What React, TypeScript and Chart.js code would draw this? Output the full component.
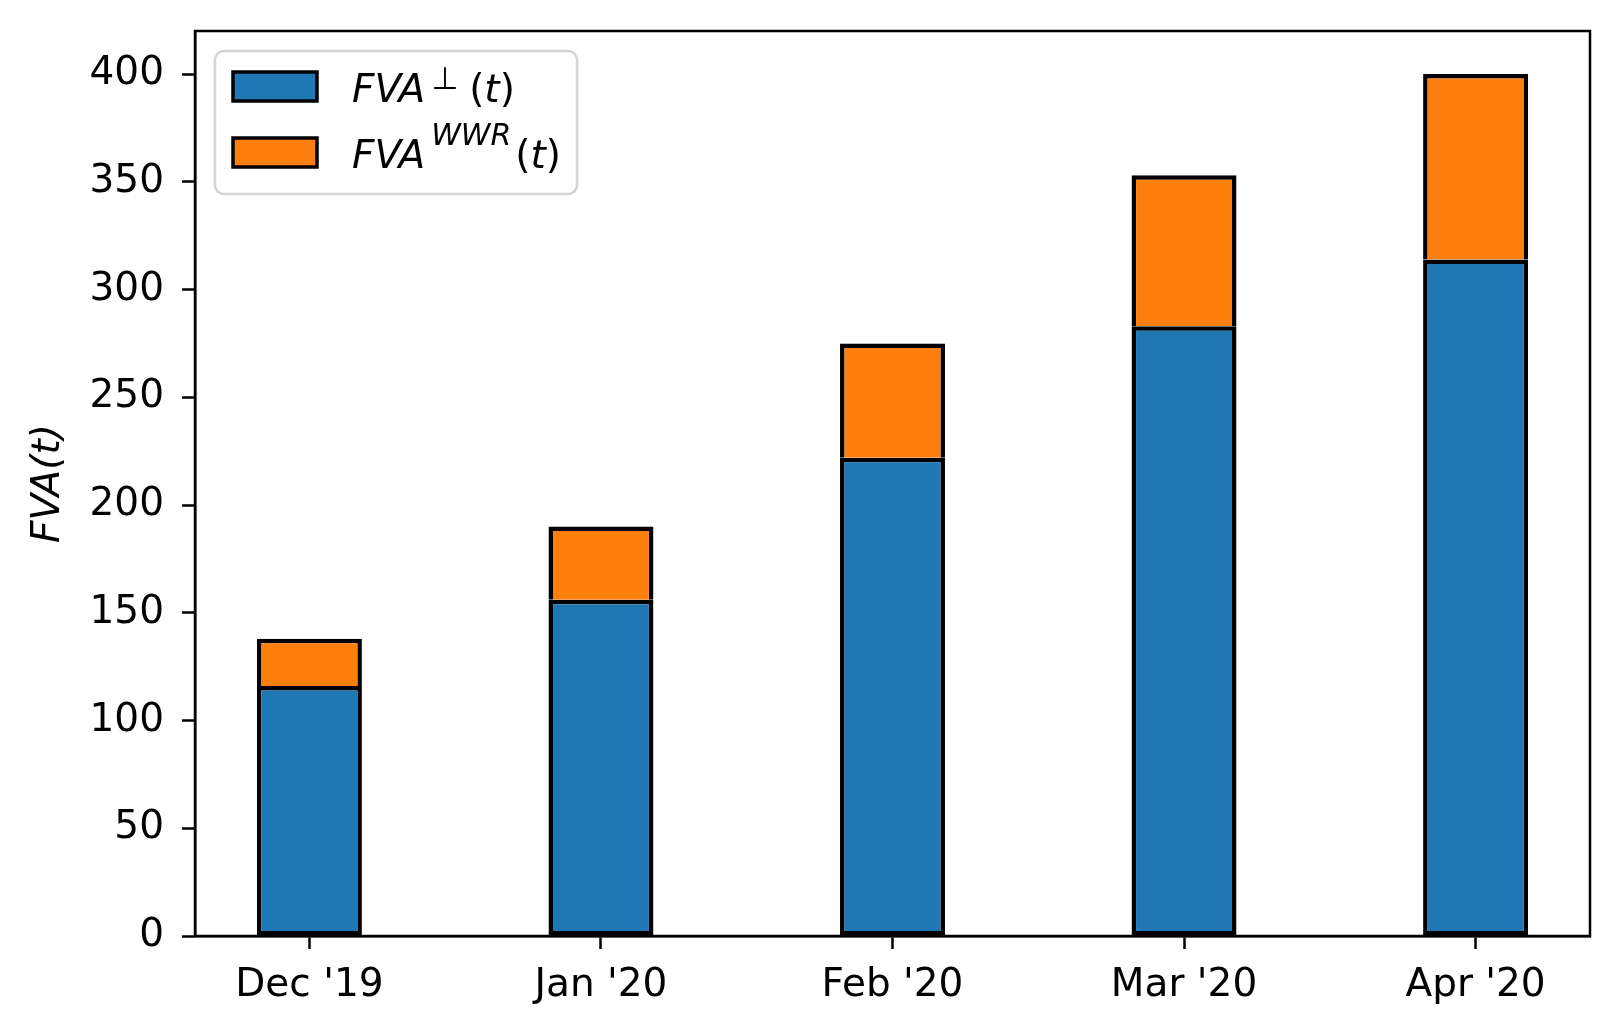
import { useEffect, useRef } from 'react';
import { Chart, registerables } from 'chart.js';

Chart.register(...registerables);

const months = ["Dec '19", "Jan '20", "Feb '20", "Mar '20", "Apr '20"];
const fvaPerp = [116, 156, 222, 283, 314];
const fvaWwr = [22, 34, 53, 70, 86];
const yTicks = [0, 50, 100, 150, 200, 250, 300, 350, 400];

const BLUE = '#1f77b4';
const ORANGE = '#ff7f0e';
const FONT = "'DejaVu Sans', sans-serif";

type Part = { text: string; italic?: boolean; size?: number; dy?: number; gap?: number };

// draws a mathtext-like string piece by piece (italic letters, raised superscripts)
const drawParts = (ctx: CanvasRenderingContext2D, x: number, y: number, parts: Part[]) => {
    let cx = x;
    for (const p of parts) {
        cx += p.gap || 0;
        ctx.font = `${p.italic ? 'italic ' : ''}${p.size || 39}px ${FONT}`;
        ctx.fillText(p.text, cx, y + (p.dy || 0));
        cx += ctx.measureText(p.text).width;
    }
};

const framePlugin = {
    id: 'frame',
    afterDraw(chart: any) {
        const { ctx, chartArea } = chart;
        const { left, top, right, bottom } = chartArea;
        ctx.save();
        ctx.strokeStyle = '#000';
        ctx.lineWidth = 2.5;
        ctx.strokeRect(left, top, right - left, bottom - top);

        // legend box
        const bx = 215, by = 51, bw = 362, bh = 143, r = 9;
        ctx.beginPath();
        ctx.moveTo(bx + r, by);
        ctx.arcTo(bx + bw, by, bx + bw, by + bh, r);
        ctx.arcTo(bx + bw, by + bh, bx, by + bh, r);
        ctx.arcTo(bx, by + bh, bx, by, r);
        ctx.arcTo(bx, by, bx + bw, by, r);
        ctx.closePath();
        ctx.fillStyle = 'rgba(255,255,255,0.8)';
        ctx.fill();
        ctx.strokeStyle = '#d4d4d4';
        ctx.lineWidth = 2.5;
        ctx.stroke();

        const patches = [BLUE, ORANGE];
        patches.forEach((c, i) => {
            const py = 72 + i * 66;
            ctx.fillStyle = c;
            ctx.fillRect(233, py, 84, 29);
            ctx.strokeStyle = '#000';
            ctx.lineWidth = 3.5;
            ctx.strokeRect(233, py, 84, 29);
        });

        ctx.fillStyle = '#000';
        ctx.textAlign = 'left';
        ctx.textBaseline = 'alphabetic';
        drawParts(ctx, 352, 102, [
            { text: 'FVA', italic: true },
            { text: '\u22A5', size: 31, dy: -13, gap: 6 },
            { text: '(', gap: 11 },
            { text: 't', italic: true },
            { text: ')' },
        ]);
        drawParts(ctx, 352, 168, [
            { text: 'FVA', italic: true },
            { text: 'WWR', italic: true, size: 30, dy: -23, gap: 6 },
            { text: '(', gap: 4 },
            { text: 't', italic: true },
            { text: ')' },
        ]);
        ctx.restore();
    },
};

const App = () => {
    const chartRef = useRef<HTMLCanvasElement | null>(null);

    useEffect(() => {
        const ctx = chartRef.current;
        if (!ctx) return;

        Chart.defaults.font.family = FONT;
        Chart.defaults.color = '#000';

        const tickGrid = {
            drawOnChartArea: false,
            drawTicks: true,
            offset: false,
            tickLength: 13,
            tickColor: '#000',
            tickWidth: 2.5,
        };

        const chart = new Chart(ctx, {
            type: 'bar',
            data: {
                datasets: [
                    {
                        label: 'FVA perp',
                        data: fvaPerp.map((v, i) => ({ x: i, y: v })),
                        backgroundColor: BLUE,
                        borderColor: '#000',
                        borderWidth: 4.5,
                        borderSkipped: false,
                        barPercentage: 0.36,
                        categoryPercentage: 1,
                    },
                    {
                        label: 'FVA WWR',
                        data: fvaWwr.map((v, i) => ({ x: i, y: v })),
                        backgroundColor: ORANGE,
                        borderColor: '#000',
                        borderWidth: 4.5,
                        borderSkipped: 'start', // joint line comes from the blue segment
                        barPercentage: 0.36,
                        categoryPercentage: 1,
                    },
                ],
            },
            options: {
                animation: false,
                responsive: false,
                devicePixelRatio: 1,
                layout: { padding: { top: 31, right: 30, left: 0, bottom: 0 } },
                plugins: {
                    legend: { display: false },
                    tooltip: { enabled: false },
                },
                scales: {
                    x: {
                        type: 'linear',
                        stacked: true,
                        min: -0.3925,
                        max: 4.3925,
                        offset: false,
                        grid: tickGrid,
                        border: { display: true, color: '#000', width: 2.5 },
                        ticks: {
                            stepSize: 1,
                            padding: 13,
                            font: { size: 39 },
                            color: '#000',
                            callback: (v: any) => months[Math.round(Number(v))] ?? '',
                        },
                        afterBuildTicks: (scale: any) => {
                            scale.ticks = months.map((_, i) => ({ value: i }));
                        },
                        afterFit: (scale: any) => {
                            scale.height = 99;
                            scale.paddingLeft = 0;
                            scale.paddingRight = 0;
                        },
                    },
                    y: {
                        type: 'linear',
                        stacked: true,
                        min: 0,
                        max: 420,
                        grid: tickGrid,
                        border: { display: true, color: '#000', width: 2.5 },
                        ticks: {
                            padding: 18,
                            font: { size: 39 },
                            color: '#000',
                        },
                        afterBuildTicks: (scale: any) => {
                            scale.ticks = yTicks.map((v) => ({ value: v }));
                        },
                        title: {
                            display: true,
                            text: 'FVA(t)',
                            font: { size: 39, style: 'italic' },
                            color: '#000',
                            padding: { top: 25, bottom: 0 },
                        },
                        afterFit: (scale: any) => {
                            scale.width = 195;
                            scale.paddingTop = 0;
                            scale.paddingBottom = 0;
                        },
                    },
                },
            },
            plugins: [framePlugin],
        });

        return () => {
            chart.destroy();
        };
    }, []);

    return (
        <div style={{ position: 'fixed', left: 0, top: 0, width: 1620, height: 1035, background: '#fff' }}>
            <canvas ref={chartRef} width={1620} height={1035} style={{ width: 1620, height: 1035 }}></canvas>
        </div>
    );
};

export default App;
